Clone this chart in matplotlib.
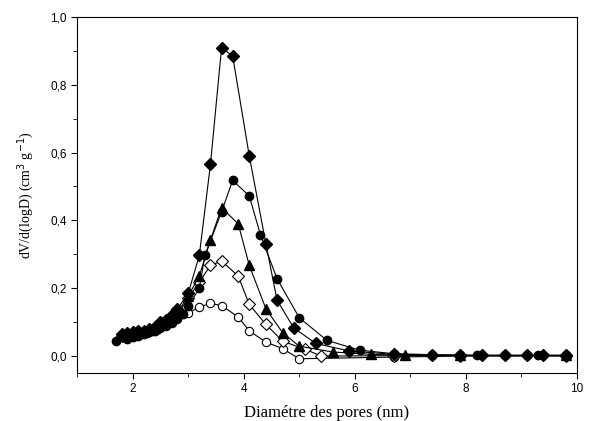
import matplotlib
matplotlib.use('Agg')
import matplotlib.pyplot as plt
from matplotlib.ticker import MultipleLocator, FuncFormatter

# Données (diamètre en nm, dV/d(logD))
x_open_circ = [1.8, 1.9, 2.0, 2.1, 2.2, 2.3, 2.4, 2.5, 2.6, 2.7, 2.8, 3.0, 3.2, 3.4, 3.6, 3.9, 4.1, 4.4, 4.7, 5.0, 6.7, 7.9, 9.8]
y_open_circ = [0.058, 0.060, 0.062, 0.066, 0.069, 0.073, 0.078, 0.084, 0.090, 0.098, 0.108, 0.126, 0.145, 0.155, 0.149, 0.115, 0.074, 0.041, 0.022, -0.008, -0.003, 0.0, 0.0]

x_open_diam = [1.8, 1.9, 2.0, 2.1, 2.2, 2.3, 2.4, 2.5, 2.6, 2.7, 2.8, 3.0, 3.2, 3.4, 3.6, 3.9, 4.1, 4.4, 4.7, 5.1, 5.4, 6.7, 7.9, 9.8]
y_open_diam = [0.060, 0.063, 0.066, 0.069, 0.073, 0.078, 0.083, 0.090, 0.097, 0.108, 0.122, 0.170, 0.218, 0.267, 0.280, 0.236, 0.152, 0.093, 0.044, 0.020, 0.0, 0.001, 0.001, 0.001]

x_tri = [1.8, 1.9, 2.0, 2.1, 2.2, 2.3, 2.4, 2.5, 2.6, 2.7, 2.8, 3.0, 3.2, 3.4, 3.6, 3.9, 4.1, 4.4, 4.7, 5.0, 5.6, 6.3, 6.9, 7.9, 9.8]
y_tri = [0.058, 0.062, 0.065, 0.069, 0.072, 0.077, 0.083, 0.092, 0.100, 0.112, 0.128, 0.177, 0.236, 0.342, 0.437, 0.390, 0.267, 0.139, 0.069, 0.029, 0.012, 0.005, 0.002, 0.002, 0.002]

x_circ = [1.7, 1.9, 2.0, 2.1, 2.2, 2.3, 2.4, 2.5, 2.6, 2.7, 2.8, 2.9, 3.0, 3.2, 3.3, 3.6, 3.8, 4.1, 4.3, 4.6, 5.0, 5.5, 6.1, 6.7, 7.4, 7.9, 8.2, 8.7, 9.1, 9.3, 9.8]
y_circ = [0.044, 0.050, 0.055, 0.060, 0.065, 0.070, 0.075, 0.085, 0.092, 0.100, 0.113, 0.125, 0.147, 0.200, 0.297, 0.425, 0.518, 0.472, 0.358, 0.228, 0.113, 0.046, 0.017, 0.007, 0.004, 0.003, 0.002, 0.002, 0.002, 0.002, 0.002]

x_diam = [1.8, 1.9, 2.0, 2.1, 2.2, 2.3, 2.4, 2.5, 2.6, 2.7, 2.8, 3.0, 3.2, 3.4, 3.6, 3.8, 4.1, 4.4, 4.6, 4.9, 5.3, 5.9, 6.7, 7.4, 7.9, 8.3, 8.7, 9.1, 9.4, 9.8]
y_diam = [0.065, 0.068, 0.070, 0.074, 0.072, 0.080, 0.085, 0.100, 0.105, 0.120, 0.138, 0.185, 0.297, 0.565, 0.908, 0.885, 0.590, 0.330, 0.165, 0.083, 0.037, 0.015, 0.005, 0.003, 0.002, 0.002, 0.002, 0.002, 0.002, 0.002]

plt.rcParams['font.family'] = ['Liberation Sans', 'DejaVu Sans']

fig = plt.figure(figsize=(5.94, 4.21), dpi=100)
ax = fig.add_axes([0.130, 0.114, 0.841, 0.846])

lw = 0.8
ax.plot(x_open_circ, y_open_circ, '-o', color='black', mfc='white', mec='black', ms=6, lw=lw, mew=0.8)
ax.plot(x_open_diam, y_open_diam, '-D', color='black', mfc='white', mec='black', ms=6, lw=lw, mew=0.8)
ax.plot(x_tri, y_tri, '-^', color='black', ms=6.5, lw=lw)
ax.plot(x_circ, y_circ, '-o', color='black', ms=6, lw=lw)
ax.plot(x_diam, y_diam, '-D', color='black', ms=6.5, lw=lw)

ax.set_xlim(1, 10)
ax.set_ylim(-0.05, 1.0)
ax.xaxis.set_major_locator(MultipleLocator(2))
ax.xaxis.set_minor_locator(MultipleLocator(1))
ax.yaxis.set_major_locator(MultipleLocator(0.2))
ax.yaxis.set_minor_locator(MultipleLocator(0.1))
ax.yaxis.set_major_formatter(FuncFormatter(lambda v, p: f'{v:.1f}'.replace('.', ',')))
ax.xaxis.set_major_formatter(FuncFormatter(lambda v, p: f'{v:.0f}'))
ax.tick_params(which='both', direction='out', top=False, right=False, labelsize=8.5)
ax.tick_params(which='major', length=4)
ax.tick_params(which='minor', length=3)

ax.set_xlabel('Diamétre des pores (nm)', family='Liberation Serif', fontsize=12, labelpad=7)
ax.set_ylabel('dV/d(logD) (cm$^{3}$ g$^{-1}$)', family='Liberation Serif', fontsize=10, labelpad=10)

fig.savefig('out.png', dpi=100)
